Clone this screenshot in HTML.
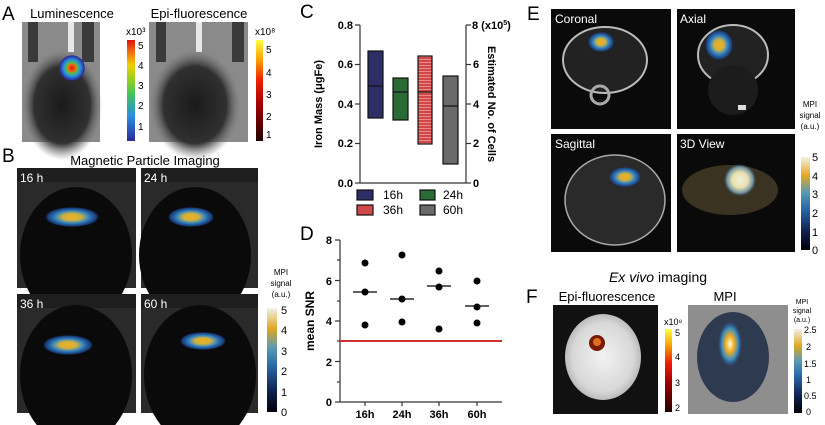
<!DOCTYPE html>
<html><head><meta charset="utf-8"><style>
html,body{margin:0;padding:0;background:#fff;}
svg{display:block;font-family:"Liberation Sans",Arial,sans-serif;}
</style></head><body>
<svg width="825" height="425" viewBox="0 0 825 425" xmlns="http://www.w3.org/2000/svg">
<defs>
<linearGradient id="jet" x1="0" y1="1" x2="0" y2="0">
<stop offset="0" stop-color="#2a2a9a"/><stop offset="0.25" stop-color="#2a8ee0"/><stop offset="0.45" stop-color="#40c060"/><stop offset="0.6" stop-color="#90d020"/><stop offset="0.75" stop-color="#f0d000"/><stop offset="0.88" stop-color="#f07010"/><stop offset="1" stop-color="#e01010"/></linearGradient>
<linearGradient id="hot" x1="0" y1="1" x2="0" y2="0">
<stop offset="0" stop-color="#200000"/><stop offset="0.35" stop-color="#a00000"/><stop offset="0.6" stop-color="#f02000"/><stop offset="0.8" stop-color="#f8a000"/><stop offset="1" stop-color="#ffff40"/></linearGradient>
<linearGradient id="mpi" x1="0" y1="1" x2="0" y2="0">
<stop offset="0" stop-color="#000008"/><stop offset="0.2" stop-color="#102050"/><stop offset="0.45" stop-color="#2a6aa8"/><stop offset="0.62" stop-color="#5a9ab0"/><stop offset="0.8" stop-color="#e0a820"/><stop offset="1" stop-color="#f2f2e8"/></linearGradient>
<radialGradient id="blobB"><stop offset="0" stop-color="#f0b020"/><stop offset="0.35" stop-color="#d0b040"/><stop offset="0.6" stop-color="#3a8ac0"/><stop offset="0.9" stop-color="#1a4a9a" stop-opacity="0.8"/><stop offset="1" stop-color="#1a4a9a" stop-opacity="0"/></radialGradient>
<radialGradient id="blobL"><stop offset="0" stop-color="#e01010"/><stop offset="0.3" stop-color="#f07010"/><stop offset="0.45" stop-color="#40c060"/><stop offset="0.65" stop-color="#2a8ee0"/><stop offset="0.95" stop-color="#2a2a9a"/><stop offset="1" stop-color="#2a2a9a" stop-opacity="0"/></radialGradient>
<radialGradient id="blob3"><stop offset="0" stop-color="#f2f0d8"/><stop offset="0.5" stop-color="#e8e0b0"/><stop offset="0.8" stop-color="#8ab0c0" stop-opacity="0.8"/><stop offset="1" stop-color="#4a80b0" stop-opacity="0"/></radialGradient>
<radialGradient id="blobF"><stop offset="0" stop-color="#fff8e0"/><stop offset="0.35" stop-color="#f0b020"/><stop offset="0.7" stop-color="#3a8ac0"/><stop offset="1" stop-color="#2a5a9a" stop-opacity="0"/></radialGradient>
<radialGradient id="head"><stop offset="0" stop-color="#1a1a1a"/><stop offset="0.7" stop-color="#303030"/><stop offset="1" stop-color="#707070" stop-opacity="0"/></radialGradient>
<radialGradient id="brain"><stop offset="0" stop-color="#f2f2f2"/><stop offset="0.8" stop-color="#d8d8d8"/><stop offset="1" stop-color="#bbb"/></radialGradient>
<pattern id="stripe" width="4" height="3" patternUnits="userSpaceOnUse"><rect width="4" height="3" fill="#d04848"/><rect y="2" width="4" height="1" fill="#e88"/></pattern>
</defs>

<!-- A -->
<text x="2" y="20" font-size="19">A</text>
<text x="72" y="18" font-size="13" text-anchor="middle">Luminescence</text>
<text x="199" y="18" font-size="13" text-anchor="middle">Epi-fluorescence</text>
<g>
<rect x="22" y="22" width="78" height="120" fill="#8a8a8a"/>
<rect x="28" y="22" width="10" height="40" fill="#3a3a3a"/><rect x="82" y="22" width="12" height="40" fill="#3a3a3a"/>
<rect x="68" y="22" width="6" height="30" fill="#e8e8e8"/>
<ellipse cx="62" cy="105" rx="40" ry="55" fill="url(#head)"/>
<circle cx="72" cy="68" r="13" fill="url(#blobL)"/>
</g>
<rect x="127" y="40" width="8" height="101" fill="url(#jet)"/>
<text x="126" y="35" font-size="10">x10³</text>
<g font-size="10"><text x="138" y="49">5</text><text x="138" y="69">4</text><text x="138" y="89">3</text><text x="138" y="109">2</text><text x="138" y="130">1</text></g>
<g>
<rect x="149" y="22" width="99" height="120" fill="#8a8a8a"/>
<rect x="156" y="22" width="10" height="40" fill="#3a3a3a"/><rect x="232" y="22" width="12" height="40" fill="#3a3a3a"/>
<rect x="196" y="22" width="6" height="30" fill="#e8e8e8"/>
<ellipse cx="195" cy="105" rx="45" ry="55" fill="url(#head)"/>
</g>
<rect x="256" y="40" width="7" height="101" fill="url(#hot)"/>
<text x="255" y="35" font-size="10">x10⁸</text>
<g font-size="10"><text x="266" y="53">5</text><text x="266" y="76">4</text><text x="266" y="98">3</text><text x="266" y="120">2</text><text x="266" y="138">1</text></g>

<!-- B -->
<text x="2" y="162" font-size="19">B</text>
<text x="145" y="165" font-size="13" text-anchor="middle">Magnetic Particle Imaging</text>
<g>
<rect x="17" y="168" width="119" height="120" fill="#2a2a2a"/><rect x="17" y="168" width="119" height="14" fill="#1e1e1e"/><ellipse cx="76" cy="255" rx="56" ry="68" fill="#0a0a0a"/>
<ellipse cx="72" cy="217" rx="27" ry="10" fill="url(#blobB)"/>
<text x="20" y="182" font-size="12" fill="#fff">16 h</text>
<rect x="141" y="168" width="117" height="120" fill="#2a2a2a"/><rect x="141" y="168" width="117" height="14" fill="#1e1e1e"/><ellipse cx="195" cy="255" rx="56" ry="68" fill="#0a0a0a"/>
<ellipse cx="191" cy="217" rx="23" ry="10" fill="url(#blobB)"/>
<text x="144" y="182" font-size="12" fill="#fff">24 h</text>
<rect x="17" y="294" width="119" height="119" fill="#2a2a2a"/><rect x="17" y="294" width="119" height="14" fill="#1e1e1e"/><ellipse cx="76" cy="375" rx="56" ry="70" fill="#0a0a0a"/>
<ellipse cx="68" cy="345" rx="25" ry="10" fill="url(#blobB)"/>
<text x="20" y="308" font-size="12" fill="#fff">36 h</text>
<rect x="141" y="294" width="117" height="119" fill="#2a2a2a"/><rect x="141" y="294" width="117" height="14" fill="#1e1e1e"/><ellipse cx="200" cy="375" rx="56" ry="70" fill="#0a0a0a"/>
<ellipse cx="203" cy="341" rx="23" ry="9" fill="url(#blobB)"/>
<text x="144" y="308" font-size="12" fill="#fff">60 h</text>
</g>
<rect x="267" y="308" width="10" height="104" fill="url(#mpi)"/>
<g font-size="8" text-anchor="middle"><text x="281" y="275">MPI</text><text x="281" y="286">signal</text><text x="281" y="297">(a.u.)</text></g>
<g font-size="11"><text x="281" y="314">5</text><text x="281" y="334">4</text><text x="281" y="355">3</text><text x="281" y="375">2</text><text x="281" y="396">1</text><text x="281" y="416">0</text></g>

<!-- C -->
<text x="300" y="18" font-size="19">C</text>
<g stroke="#333" stroke-width="1.2" fill="none">
<line x1="360" y1="25" x2="360" y2="183"/><line x1="466" y1="25" x2="466" y2="183"/>
<line x1="360" y1="183" x2="466" y2="183"/>
<line x1="355" y1="25" x2="360" y2="25"/><line x1="355" y1="64.5" x2="360" y2="64.5"/><line x1="355" y1="104" x2="360" y2="104"/><line x1="355" y1="143.5" x2="360" y2="143.5"/><line x1="355" y1="183" x2="360" y2="183"/>
<line x1="466" y1="25" x2="471" y2="25"/><line x1="466" y1="64.5" x2="471" y2="64.5"/><line x1="466" y1="104" x2="471" y2="104"/><line x1="466" y1="143.5" x2="471" y2="143.5"/><line x1="466" y1="183" x2="471" y2="183"/>
</g>
<g font-size="11" font-weight="bold" text-anchor="end"><text x="353" y="29">0.8</text><text x="353" y="68">0.6</text><text x="353" y="108">0.4</text><text x="353" y="147">0.2</text><text x="353" y="187">0.0</text></g>
<g font-size="11" font-weight="bold"><text x="472" y="29">8 (x10<tspan font-size="7" dy="-4">5</tspan><tspan dy="4">)</tspan></text><text x="473" y="68">6</text><text x="473" y="108">4</text><text x="473" y="147">2</text><text x="473" y="187">0</text></g>
<text transform="translate(322,104) rotate(-90)" font-size="11" font-weight="bold" text-anchor="middle">Iron Mass (μgFe)</text>
<text transform="translate(488,104) rotate(90)" font-size="11" font-weight="bold" text-anchor="middle">Estimated No. of Cells</text>
<g stroke="#111" stroke-width="1.2">
<rect x="368" y="51" width="15" height="67" fill="#2e2e66"/><line x1="368" y1="86" x2="383" y2="86"/>
<rect x="393" y="78" width="15" height="42" fill="#2a6a35"/><line x1="393" y1="92" x2="408" y2="92"/>
<rect x="418" y="56" width="14" height="88" fill="url(#stripe)"/><line x1="418" y1="92" x2="432" y2="92"/>
<rect x="443" y="76" width="15" height="88" fill="#6a6a6a"/><line x1="443" y1="106" x2="458" y2="106"/>
<rect x="357" y="190" width="16" height="10" fill="#2e2e66"/><rect x="420" y="190" width="15" height="10" fill="#2a6a35"/>
<rect x="357" y="205" width="16" height="10" fill="#d04848"/><rect x="420" y="205" width="15" height="10" fill="#6a6a6a"/>
</g>
<g font-size="12"><text x="383" y="199">16h</text><text x="443" y="199">24h</text><text x="383" y="214">36h</text><text x="443" y="214">60h</text></g>

<!-- D -->
<text x="300" y="240" font-size="19">D</text>
<g stroke="#333" stroke-width="1.2">
<line x1="340" y1="240" x2="340" y2="402"/><line x1="340" y1="402" x2="502" y2="402"/>
<line x1="335" y1="240" x2="340" y2="240"/><line x1="335" y1="280.5" x2="340" y2="280.5"/><line x1="335" y1="321" x2="340" y2="321"/><line x1="335" y1="361.5" x2="340" y2="361.5"/><line x1="335" y1="402" x2="340" y2="402"/>
<line x1="337" y1="260" x2="340" y2="260"/><line x1="337" y1="301" x2="340" y2="301"/><line x1="337" y1="341" x2="340" y2="341"/><line x1="337" y1="382" x2="340" y2="382"/>
<line x1="365" y1="402" x2="365" y2="406"/><line x1="402" y1="402" x2="402" y2="406"/><line x1="439" y1="402" x2="439" y2="406"/><line x1="477" y1="402" x2="477" y2="406"/>
</g>
<line x1="340" y1="341" x2="502" y2="341" stroke="#d03030" stroke-width="2"/>
<g font-size="11" font-weight="bold" text-anchor="end"><text x="332" y="244">8</text><text x="332" y="285">6</text><text x="332" y="325">4</text><text x="332" y="366">2</text><text x="332" y="406">0</text></g>
<text transform="translate(314,321) rotate(-90)" font-size="12" font-weight="bold" text-anchor="middle">mean SNR</text>
<g font-size="11" font-weight="bold" text-anchor="middle"><text x="365" y="418">16h</text><text x="402" y="418">24h</text><text x="439" y="418">36h</text><text x="477" y="418">60h</text></g>
<g fill="#000">
<circle cx="365" cy="263" r="3.5"/><circle cx="365" cy="292" r="3.5"/><circle cx="365" cy="325" r="3.5"/>
<circle cx="402" cy="255" r="3.5"/><circle cx="402" cy="299" r="3.5"/><circle cx="402" cy="322" r="3.5"/>
<circle cx="439" cy="271" r="3.5"/><circle cx="439" cy="287" r="3.5"/><circle cx="439" cy="329" r="3.5"/>
<circle cx="477" cy="281" r="3.5"/><circle cx="477" cy="307" r="3.5"/><circle cx="477" cy="323" r="3.5"/>
</g>
<g stroke="#000" stroke-width="1.3"><line x1="353" y1="292" x2="377" y2="292"/><line x1="390" y1="299" x2="414" y2="299"/><line x1="427" y1="286" x2="451" y2="286"/><line x1="465" y1="306" x2="489" y2="306"/></g>

<!-- E -->
<text x="527" y="20" font-size="19">E</text>
<g>
<rect x="551" y="9" width="120" height="120" fill="#0a0a0a"/>
<ellipse cx="605" cy="60" rx="42" ry="33" fill="#222" stroke="#bbb" stroke-width="2"/>
<circle cx="600" cy="95" r="9" fill="none" stroke="#aaa" stroke-width="3"/>
<ellipse cx="601" cy="42" rx="13" ry="10" fill="url(#blobB)"/>
<text x="555" y="23" font-size="12" fill="#fff">Coronal</text>
<rect x="677" y="9" width="118" height="120" fill="#0a0a0a"/>
<ellipse cx="733" cy="55" rx="35" ry="30" fill="#222" stroke="#bbb" stroke-width="2"/>
<ellipse cx="733" cy="90" rx="25" ry="25" fill="#1c1c1c"/>
<rect x="738" y="105" width="8" height="5" fill="#ddd"/>
<ellipse cx="719" cy="45" rx="14" ry="15" fill="url(#blobB)"/>
<text x="680" y="23" font-size="12" fill="#fff">Axial</text>
<rect x="551" y="134" width="120" height="118" fill="#0a0a0a"/>
<ellipse cx="615" cy="200" rx="50" ry="45" fill="#2a2a2a" stroke="#aaa" stroke-width="1.5"/>
<ellipse cx="625" cy="177" rx="16" ry="10" fill="url(#blobB)"/>
<text x="555" y="148" font-size="12" fill="#fff">Sagittal</text>
<rect x="677" y="134" width="118" height="118" fill="#0a0a0a"/>
<ellipse cx="730" cy="190" rx="48" ry="25" fill="#3a3322"/>
<circle cx="740" cy="180" r="16" fill="url(#blob3)"/>
<text x="680" y="148" font-size="12" fill="#fff">3D View</text>
</g>
<rect x="801" y="157" width="9" height="93" fill="url(#mpi)"/>
<g font-size="8" text-anchor="middle"><text x="810" y="107">MPI</text><text x="810" y="118">signal</text><text x="810" y="129">(a.u.)</text></g>
<g font-size="11"><text x="812" y="161">5</text><text x="812" y="180">4</text><text x="812" y="198">3</text><text x="812" y="217">2</text><text x="812" y="236">1</text><text x="812" y="254">0</text></g>

<!-- F -->
<text x="658" y="282" font-size="14" text-anchor="middle"><tspan font-style="italic">Ex vivo</tspan> imaging</text>
<text x="526" y="303" font-size="19">F</text>
<text x="607" y="301" font-size="13" text-anchor="middle">Epi-fluorescence</text>
<text x="725" y="301" font-size="13" text-anchor="middle">MPI</text>
<rect x="553" y="305" width="105" height="109" fill="#111"/>
<ellipse cx="603" cy="357" rx="38" ry="43" fill="url(#brain)"/>
<circle cx="597" cy="343" r="8" fill="#7a1a00"/><circle cx="597" cy="342" r="4" fill="#e07020"/>
<rect x="665" y="329" width="7" height="83" fill="url(#hot)"/>
<text x="664" y="325" font-size="9">x10⁸</text>
<g font-size="9"><text x="675" y="336">5</text><text x="675" y="360">4</text><text x="675" y="386">3</text><text x="675" y="411">2</text></g>
<rect x="688" y="305" width="100" height="109" fill="#8e8e8e"/>
<ellipse cx="733" cy="357" rx="36" ry="45" fill="#2e3a50"/>
<ellipse cx="730" cy="344" rx="12" ry="23" fill="url(#blobF)"/>
<rect x="794" y="329" width="8" height="84" fill="url(#mpi)"/>
<g font-size="7" text-anchor="middle"><text x="802" y="304">MPI</text><text x="802" y="313">signal</text><text x="802" y="322">(a.u.)</text></g>
<g font-size="9"><text x="804" y="333">2.5</text><text x="806" y="350">2</text><text x="804" y="367">1.5</text><text x="806" y="383">1</text><text x="804" y="399">0.5</text><text x="806" y="415">0</text></g>
</svg>
</body></html>
